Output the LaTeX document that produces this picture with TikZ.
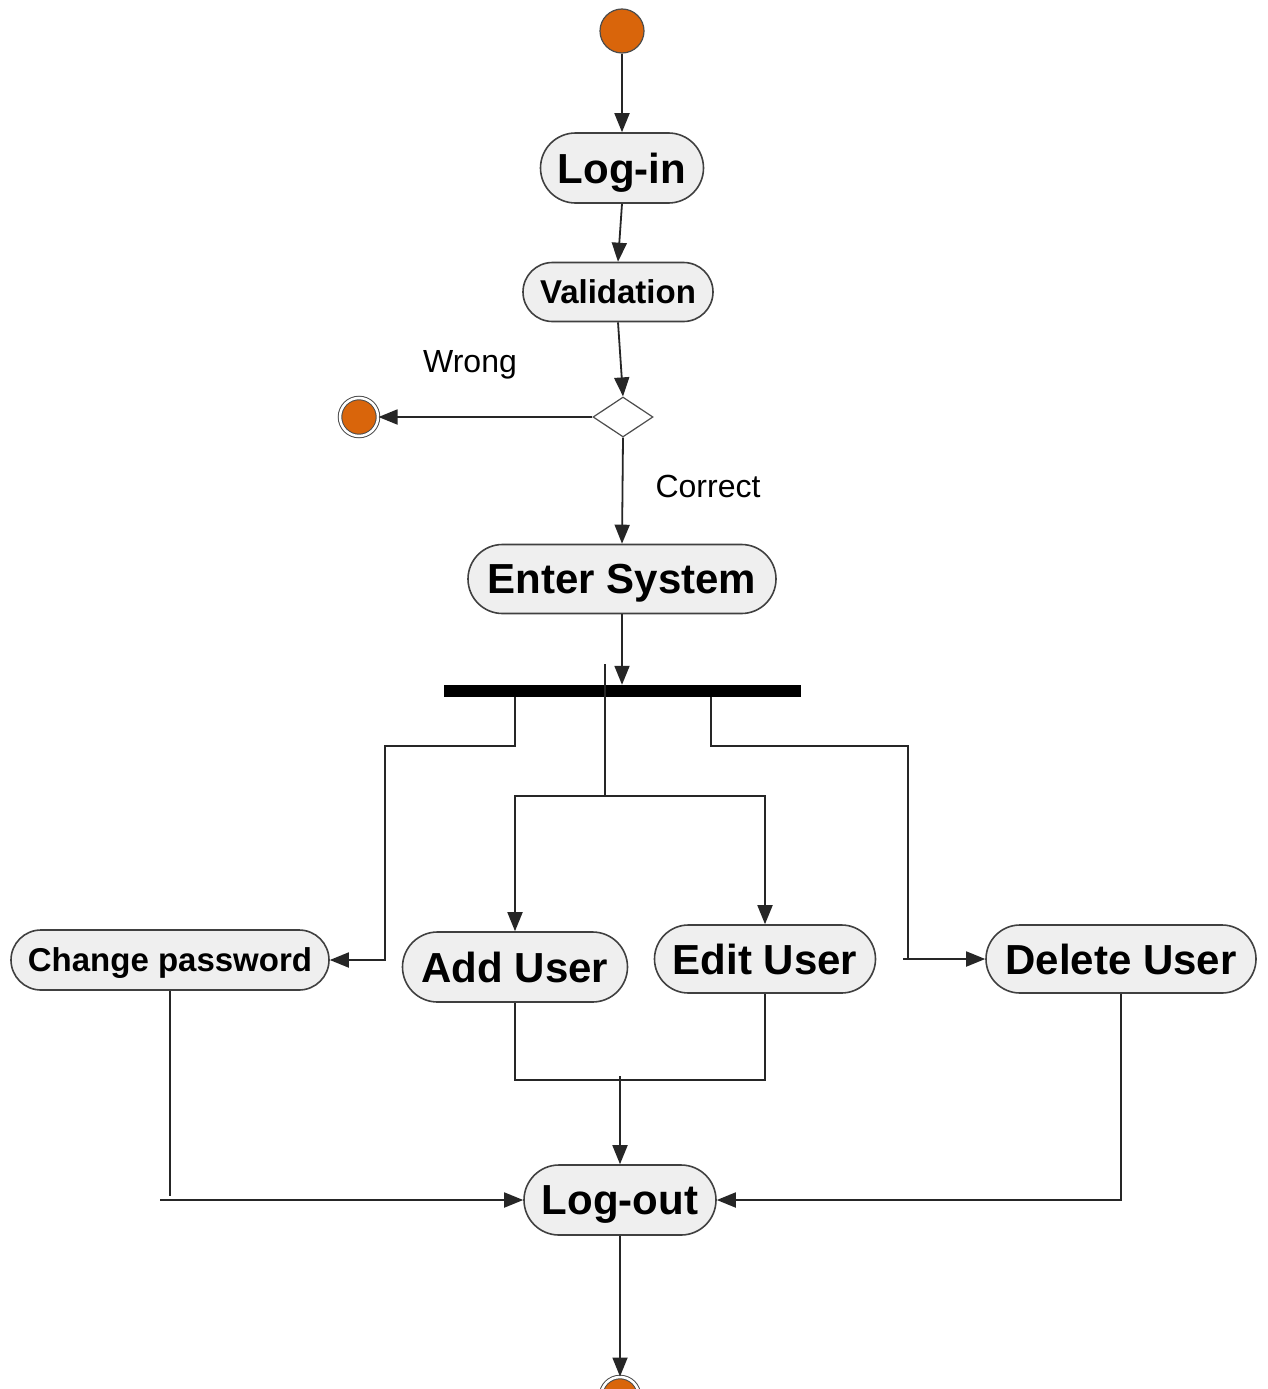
\documentclass[tikz,border=0pt]{standalone}
\usepackage{fontspec}
\setmainfont{Liberation Sans}
\usetikzlibrary{shapes.misc,shapes.geometric,arrows.meta}
\definecolor{uorange}{HTML}{D9650B}
\definecolor{boxfill}{HTML}{EFEFEF}
\begin{document}
\begin{tikzpicture}[x=1pt,y=-1pt,
  conn/.style={line width=1.8pt, black!85},
  arr/.style={conn, -{Triangle[length=19pt,width=15pt]}},
  act/.style={rounded rectangle, draw=black!75, fill=boxfill, line width=1.6pt, inner sep=0pt,
    font=\bfseries\fontsize{42}{42}\selectfont, text depth=0pt},
  smallact/.style={act, font=\bfseries\fontsize{33}{33}\selectfont},
  initnode/.style={circle, fill=uorange, draw=black!70, line width=1.2pt, minimum size=44pt, inner sep=0pt},
  endnode/.style={circle, fill=uorange, draw=black!70, line width=1pt, double=white, double distance=2.5pt, minimum size=38pt, inner sep=0pt},
  guard/.style={font=\fontsize{32}{32}\selectfont}
]
\useasboundingbox (0,0) rectangle (1267,1389);
\fill[white] (0,0) rectangle (1267,1389);
\clip (0,0) rectangle (1267,1389);

% nodes
\node[initnode] (start) at (622,31) {};
\node[act, minimum width=163pt, minimum height=70pt] (login) at (622,168) {Log-in};
\node[smallact, minimum width=190pt, minimum height=59pt] (valid) at (618,292) {Validation};
\node[diamond, draw=black!70, fill=white, line width=1.2pt, minimum width=60pt, minimum height=40pt, inner sep=0pt] (dec) at (623,417) {};
\node[endnode] (endL) at (359,417) {};
\node[guard] (wrong) at (470,365) {Wrong};
\node[guard] (correct) at (708,486) {Correct};
\node[act, minimum width=308pt, minimum height=69pt] (enter) at (622,579) {Enter System};
\node[rectangle, fill=black, minimum width=357pt, minimum height=12pt, inner sep=0pt] (bar) at (622.5,691) {};
\node[smallact, minimum width=318pt, minimum height=60pt] (cp) at (170,960) {Change password};
\node[act, minimum width=225pt, minimum height=70pt] (add) at (515,967) {Add User};
\node[act, minimum width=221pt, minimum height=68pt] (edit) at (765,959) {Edit User};
\node[act, minimum width=270pt, minimum height=68pt] (del) at (1121,959) {Delete User};
\node[act, minimum width=192pt, minimum height=70pt] (logout) at (620,1200) {Log-out};
\node[endnode] (endB) at (620,1396) {};

% coordinates for bends
\coordinate (mtop) at (605,664);
\coordinate (mj) at (605,796);
\coordinate (l1) at (515,697);
\coordinate (l2) at (385,746);
\coordinate (r1) at (711,697);
\coordinate (r2) at (908,746);
\coordinate (r3) at (908,960);
\coordinate (r3s) at (903,959);
\coordinate (b1) at (515,1080);
\coordinate (b2) at (765,1080);
\coordinate (bj) at (620,1076);
\coordinate (c1) at (170,1196);
\coordinate (c2) at (160,1200);

% connectors
\draw[arr] (start) -- (login);
\draw[arr] (login.south) -- (valid.north);
\draw[arr] (valid.south) -- (dec.north);
\draw[arr] (dec.west) -- (endL);
\draw[arr] (dec.south) -- (enter.north);
\draw[arr] (enter.south) -- (enter.south |- bar.north);
\draw[conn] (mtop) -- (mj);
\draw[arr] (mj) -| (add.north);
\draw[arr] (mj) -| (edit.north);
\draw[arr] (l1) |- (l2) |- (cp.east);
\draw[conn] (r1) |- (r2) -- (r3);
\draw[arr] (r3s) -- (del.west);
\draw[conn] (add.south) -- (b1) -- (b2) -- (edit.south);
\draw[arr] (bj) -- (logout.north);
\draw[conn] (cp.south) -- (c1);
\draw[arr] (c2) -- (logout.west);
\draw[arr] (del.south) |- (logout.east);
\draw[arr] (logout) -- (endB);
\end{tikzpicture}
\end{document}
